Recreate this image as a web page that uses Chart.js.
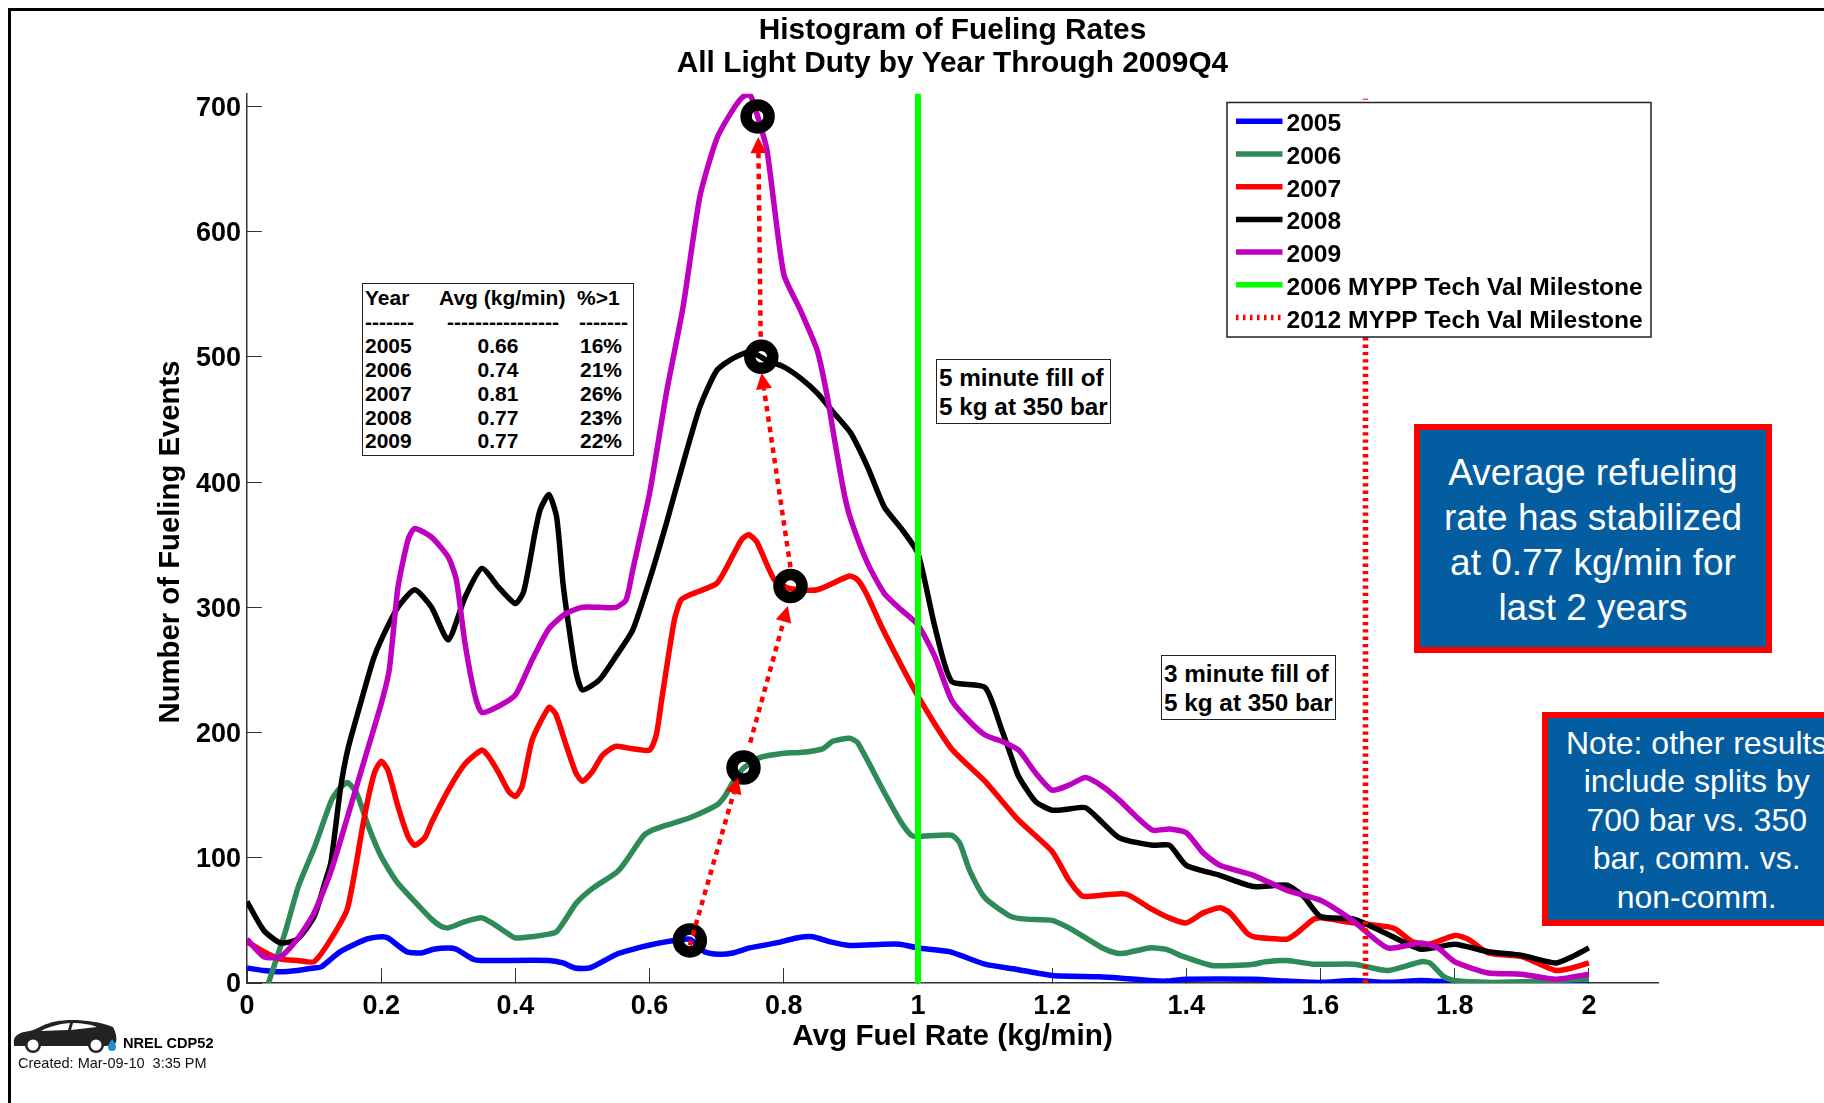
<!DOCTYPE html>
<html>
<head>
<meta charset="utf-8">
<title>Histogram of Fueling Rates</title>
<script src="https://cdn.jsdelivr.net/npm/chart.js@4"></script>
<style>
html,body{margin:0;padding:0;background:#fff;width:1824px;height:1103px;overflow:hidden;font-family:"Liberation Sans",Arial,sans-serif;}
#wrap{position:absolute;left:0;top:0;width:1824px;height:1103px;overflow:hidden;}
canvas{position:absolute;left:0;top:0;}
.frame{position:absolute;background:#000;}
.abs{position:absolute;white-space:pre;}
.box{position:absolute;background:#fff;border:1.5px solid #222;box-sizing:border-box;}
.b{font-weight:700;color:#000;}
.blue{position:absolute;box-sizing:border-box;background:#035da0;border:6px solid #f00;color:#fff;text-align:center;white-space:pre;}
</style>
</head>
<body>
<div id="wrap"><canvas id="c" width="1824" height="1103"></canvas></div>
<script>
const xTicks = [0,0.2,0.4,0.6,0.8,1,1.2,1.4,1.6,1.8,2];
const yTicks = [0,100,200,300,400,500,600,700];
const xMax = 2.103, yMax = 710;

const s2005 = [[0,12],[0.025,10],[0.05,9],[0.075,10],[0.1,12],[0.111,13],[0.139,25],[0.178,35],[0.2,37],[0.21,36],[0.238,25],[0.26,24],[0.278,27],[0.3,28],[0.312,27],[0.337,19],[0.35,18],[0.45,18],[0.471,16],[0.489,12],[0.511,12],[0.551,23],[0.59,29],[0.615,32],[0.66,35],[0.682,25],[0.704,23],[0.724,24],[0.749,28],[0.789,32],[0.819,36],[0.843,37],[0.868,33],[0.898,30],[0.948,31],[0.973,31],[1,28],[1.047,25],[1.1,15],[1.146,11],[1.2,6],[1.27,5],[1.3,4],[1.345,2],[1.37,1.5],[1.4,3],[1.5,3],[1.55,1.5],[1.6,0.5],[1.65,2],[1.7,0.5],[1.75,2],[1.8,0.5],[1.85,0],[2,0]];
const s2006 = [[0.032,0],[0.0566,40],[0.0765,77],[0.101,109],[0.126,146],[0.139,156],[0.15,160],[0.163,152],[0.181,125],[0.2,101],[0.223,81],[0.25,65],[0.275,51],[0.29,45],[0.3,44],[0.325,49],[0.35,52],[0.365,48],[0.39,39],[0.4,36],[0.425,37],[0.45,39],[0.4615,41],[0.475,51],[0.491,64],[0.516,76],[0.55,88],[0.563,96],[0.59,117],[0.6,121],[0.625,126],[0.66,132],[0.7,142],[0.712,149],[0.724,160],[0.739,171],[0.764,180],[0.8,183.5],[0.824,184],[0.858,187],[0.873,193],[0.898,195.5],[0.91,192],[0.948,154],[0.973,130],[0.99,118],[1,117],[1.05,118],[1.062,112],[1.077,90],[1.1,68],[1.139,53],[1.161,51],[1.2,50],[1.225,44],[1.25,36],[1.275,28],[1.295,24],[1.31,24],[1.345,28],[1.369,27],[1.396,21],[1.438,14],[1.47,14],[1.5,15],[1.518,17],[1.55,18],[1.59,15],[1.65,15],[1.7,10],[1.75,17],[1.763,16],[1.784,5],[1.8,2],[1.85,0.5],[1.9,1],[1.95,2],[2,3]];
const s2007 = [[0,33],[0.025,25],[0.05,19],[0.075,18],[0.1,17],[0.125,35],[0.15,60],[0.175,133],[0.19,168],[0.2,177],[0.21,170],[0.225,141],[0.24,117],[0.25,110],[0.265,116],[0.275,128],[0.3,154],[0.325,175],[0.35,186],[0.36,181],[0.375,168],[0.39,153],[0.4,149],[0.41,157],[0.425,194],[0.45,220],[0.46,215],[0.475,191],[0.49,168],[0.5,161],[0.515,169],[0.53,182],[0.55,189],[0.575,187],[0.6,186],[0.61,198],[0.618,226],[0.637,290],[0.647,306],[0.66,310],[0.675,313],[0.7,319],[0.71,327],[0.737,354],[0.748,358],[0.76,352],[0.786,322],[0.809,315],[0.85,314],[0.898,325],[0.91,322],[0.923,311],[0.948,282],[1,229],[1.05,187],[1.1,161],[1.15,130],[1.2,105],[1.225,82],[1.243,70],[1.25,69],[1.31,71],[1.345,60],[1.3745,52],[1.4,48],[1.425,56],[1.45,60],[1.465,56],[1.49,40],[1.5,37],[1.55,35],[1.565,40],[1.59,51],[1.6,52],[1.65,48],[1.7,45],[1.712,43],[1.737,33],[1.762,31],[1.8,38],[1.82,35],[1.85,24],[1.9,21],[1.95,10],[1.975,12],[2,16]];
const s2008 = [[0,65],[0.025,42],[0.05,32],[0.075,35],[0.1,53],[0.116,80],[0.125,96],[0.139,154],[0.15,186],[0.168,221],[0.188,258],[0.2,274],[0.225,300],[0.25,314],[0.275,300],[0.3,274],[0.325,308],[0.35,331],[0.375,316],[0.4,303],[0.412,312],[0.422,338],[0.429,359],[0.437,378],[0.45,390],[0.4615,372],[0.471,319],[0.479,287],[0.49,249],[0.5,234],[0.525,242],[0.55,261],[0.575,282],[0.6,322],[0.625,367],[0.65,415],[0.675,460],[0.7,489],[0.725,499],[0.75,504],[0.775,497],[0.8,492],[0.825,483],[0.85,471],[0.875,455],[0.9,439],[0.925,412],[0.95,380],[0.975,363],[1,343],[1.025,285],[1.05,241],[1.1,236],[1.125,202],[1.139,181],[1.15,165],[1.175,145],[1.2,138],[1.225,139],[1.25,140],[1.275,128],[1.3,116],[1.35,110],[1.375,110],[1.4,94],[1.45,86],[1.5,77],[1.55,78],[1.575,69],[1.6,53],[1.65,51],[1.7,39],[1.75,27],[1.8,31],[1.85,25],[1.9,22],[1.95,16],[1.975,21],[2,28]];
const s2009 = [[0,35],[0.025,21],[0.05,21],[0.075,35],[0.1,56],[0.125,89],[0.15,133],[0.175,178],[0.2,223],[0.212,250],[0.225,316],[0.24,354],[0.25,363],[0.275,356],[0.3,340],[0.312,322],[0.325,271],[0.34,229],[0.35,216],[0.375,221],[0.4,230],[0.425,258],[0.45,283],[0.475,295],[0.5,300],[0.525,300],[0.55,300],[0.565,306],[0.575,330],[0.6,391],[0.625,471],[0.65,540],[0.675,628],[0.7,674],[0.725,698],[0.74,708],[0.75,709],[0.76,694],[0.775,665],[0.8,566],[0.825,537],[0.85,505],[0.865,468],[0.875,436],[0.89,391],[0.9,370],[0.925,335],[0.95,311],[0.975,298],[1,286],[1.025,261],[1.05,226],[1.075,210],[1.1,198],[1.125,193],[1.15,186],[1.175,168],[1.2,154],[1.225,158],[1.25,164],[1.275,157],[1.3,146],[1.325,133],[1.35,122],[1.375,123],[1.4,120],[1.425,104],[1.45,94],[1.5,86],[1.55,74],[1.6,66],[1.65,49],[1.7,28],[1.75,32],[1.775,28],[1.8,17],[1.85,8],[1.9,7],[1.95,3],[2,7]];
const milestone2006 = [[1,0],[1,710]];
const milestone2012 = [[1.667,0],[1.667,706]];
const yearAverages = [[0.66,34],[0.74,172],[0.81,317],[0.7665,500],[0.761,692]];
const trendArrows = [
  [[0.66,30],[0.732,164]],
  [[0.75,192],[0.806,301]],
  [[0.81,332],[0.767,487]],
  [[0.7656,516],[0.762,675.5]]
];
const seriesNames = ['2005','2006','2007','2008','2009','2006 MYPP Tech Val Milestone','2012 MYPP Tech Val Milestone'];
const seriesColors = ['#0000ff','#2e8b57','#ff0000','#000000','#bf00bf','#00ff00','#ff0000'];

const FF = '"Liberation Sans", Arial, sans-serif';
const toPts = a => a.map(p => ({x:p[0], y:p[1]}));
const lineDs = (i, data, order, extra) => Object.assign({
  label: seriesNames[i], data: toPts(data), borderColor: seriesColors[i], backgroundColor: seriesColors[i],
  borderWidth: 5.5, pointRadius: 0, tension: 0.2, fill: false, order, borderJoinStyle:'round', borderCapStyle:'butt', showLine:true
}, extra||{});

// nudges the tick labels without moving the ticks
const nudgeLabels = (scale, dy) => {
  if (scale._nudged) return;
  scale._nudged = true;
  const orig = scale._computeLabelItems;
  scale._computeLabelItems = function(ca){
    const items = orig.call(this, ca);
    items.forEach(it => { it.options.translation[1] += dy; });
    return items;
  };
};

const arrowPlugin = {
  id:'arrows',
  afterDatasetsDraw(chart){
    const {ctx, scales:{x,y}} = chart;
    ctx.save();
    ctx.strokeStyle = ctx.fillStyle = '#ff0000';
    trendArrows.forEach(seg=>{
      const x0=x.getPixelForValue(seg[0][0]), y0=y.getPixelForValue(seg[0][1]);
      const x1=x.getPixelForValue(seg[1][0]), y1=y.getPixelForValue(seg[1][1]);
      const ang=Math.atan2(y1-y0,x1-x0), L=16, W=8;
      const bx=x1-L*Math.cos(ang), by=y1-L*Math.sin(ang);
      ctx.lineWidth=4.5; ctx.setLineDash([5.5,5]);
      ctx.beginPath(); ctx.moveTo(x0,y0); ctx.lineTo(bx,by); ctx.stroke();
      ctx.setLineDash([]);
      ctx.beginPath(); ctx.moveTo(x1,y1);
      ctx.lineTo(bx-W*Math.sin(ang),by+W*Math.cos(ang));
      ctx.lineTo(bx+W*Math.sin(ang),by-W*Math.cos(ang));
      ctx.closePath(); ctx.fill();
    });
    ctx.restore();
  }
};

const legendPlugin = {
  id:'boxedLegend',
  afterDraw(chart){
    const ctx=chart.ctx;
    const left=1227, top=102.5, w=424, h=234.5, rowH=32.7, firstLine=121.3;
    ctx.save();
    ctx.fillStyle='#fff'; ctx.fillRect(left,top,w,h);
    ctx.strokeStyle='#222'; ctx.lineWidth=1.5; ctx.strokeRect(left,top,w,h);
    chart.data.datasets.slice(0,7).forEach((ds,i)=>{
      const yy=firstLine+i*rowH;
      ctx.strokeStyle=ds.borderColor;
      if(ds.borderDash){ctx.setLineDash([2.5,4.5]);}else{ctx.setLineDash([]);}
      ctx.lineWidth=5.5;
      ctx.beginPath();ctx.moveTo(1236,yy);ctx.lineTo(1282.5,yy);ctx.stroke();
      ctx.setLineDash([]);
      ctx.fillStyle='#000';ctx.font='700 24.6px '+FF;
      ctx.textBaseline='alphabetic';ctx.textAlign='left';
      ctx.fillText(ds.label,1286.5,yy+10);
    });
    // y axis title
    ctx.translate(171,542);ctx.rotate(-Math.PI/2);
    ctx.fillStyle='#000';ctx.font='700 29.3px '+FF;ctx.textAlign='center';ctx.textBaseline='middle';
    ctx.fillText('Number of Fueling Events',0,0);
    ctx.restore();
  }
};

new Chart(document.getElementById('c'),{
  type:'scatter',
  data:{datasets:[
    lineDs(0,s2005,7),
    lineDs(1,s2006,6),
    lineDs(2,s2007,5),
    lineDs(3,s2008,4),
    lineDs(4,s2009,3),
    lineDs(5,milestone2006,2,{tension:0,borderWidth:6,clip:false}),
    lineDs(6,milestone2012,1,{tension:0,borderWidth:5.5,borderDash:[3.3,4],clip:false}),
    {label:'Average',data:toPts(yearAverages),showLine:false,pointStyle:'circle',pointRadius:11.5,pointBorderWidth:11.5,pointBorderColor:'#000',pointBackgroundColor:'rgba(0,0,0,0)',pointHoverRadius:11.5,order:0,clip:false}
  ]},
  plugins:[arrowPlugin,legendPlugin],
  options:{
    responsive:false,animation:false,events:[],
    layout:{padding:{left:154,right:166,top:8,bottom:44}},
    plugins:{
      legend:{display:false},tooltip:{enabled:false},
      title:{display:true,fullSize:false,text:['Histogram of Fueling Rates','All Light Duty by Year Through 2009Q4'],color:'#000',
        font:{family:FF,size:29.8,weight:'700',lineHeight:1.13},padding:{top:5.5,bottom:13}}
    },
    scales:{
      x:{type:'linear',min:0,max:xMax,
        afterBuildTicks(s){s.ticks=xTicks.map(v=>({value:v}));},
        afterFit(s){s.height=76;},
        grid:{drawOnChartArea:false,drawTicks:true,tickLength:-15,color:'#333',lineWidth:1},
        border:{display:true,color:'#333',width:1.5},
        ticks:{color:'#000',padding:22,maxRotation:0,autoSkip:false,font:{family:FF,size:27,weight:'700'},callback:v=>String(+(+v).toFixed(1))},
        title:{display:true,text:'Avg Fuel Rate (kg/min)',color:'#000',padding:{top:0,bottom:6},font:{family:FF,size:29.7,weight:'700',lineHeight:1.1}}
      },
      y:{type:'linear',min:0,max:yMax,
        afterBuildTicks(s){s.ticks=yTicks.map(v=>({value:v}));},
        afterFit(s){s.width=93;nudgeLabels(s,2);},
        grid:{drawOnChartArea:false,drawTicks:true,tickLength:-15,color:'#333',lineWidth:1},
        border:{display:true,color:'#333',width:1.5},
        ticks:{color:'#000',padding:21,autoSkip:false,font:{family:FF,size:27,weight:'700'},callback:v=>String(v)},
        title:{display:false}
      }
    }
  }
});

const wrap=document.getElementById('wrap');
function add(cls,css,text){const d=document.createElement('div');d.className=cls;d.style.cssText=css;if(text!==undefined)d.textContent=text;wrap.appendChild(d);return d;}
add('frame','left:8px;top:8px;width:1816px;height:3px');
add('frame','left:8px;top:8px;width:2.5px;height:1095px');
// statistics table
add('box','left:362px;top:283px;width:272px;height:173px');
const tableRows=[['Year','Avg (kg/min)','%>1'],['-------','----------------','-------'],['2005','0.66','16%'],['2006','0.74','21%'],['2007','0.81','26%'],['2008','0.77','23%'],['2009','0.77','22%']];
const rowBase=[305,329,353,377,401,425,448], colX=[[365,439,577],[365,447,579],[365,477.5,580]];
tableRows.forEach((r,i)=>{const cx=colX[Math.min(i,2)];r.forEach((t,j)=>{add('abs b',`left:${cx[j]}px;top:${rowBase[i]-19}px;font-size:21px;line-height:24px`,t);});});
// fill boxes
add('box','left:936px;top:359px;width:175px;height:65px');
add('abs b','left:939px;top:363px;font-size:24.3px;line-height:29px','5 minute fill of\n5 kg at 350 bar');
add('box','left:1161px;top:655px;width:175px;height:65px');
add('abs b','left:1164px;top:659px;font-size:24.3px;line-height:29px','3 minute fill of\n5 kg at 350 bar');
// call-outs
add('blue','left:1414px;top:424px;width:358px;height:229px;font-size:37px;line-height:45px;padding-top:20px','Average refueling\nrate has stabilized\nat 0.77 kg/min for\nlast 2 years');
add('blue','left:1542px;top:712px;width:309.4px;height:214px;font-size:32px;line-height:38.5px;padding-top:5.8px','Note: other results\ninclude splits by\n700 bar vs. 350\nbar, comm. vs.\nnon-comm.');
// footer
const car=document.createElementNS('http://www.w3.org/2000/svg','svg');
car.setAttribute('style','position:absolute;left:0;top:1000px');car.setAttribute('width','130');car.setAttribute('height','60');car.setAttribute('viewBox','0 0 130 60');
car.innerHTML='<path fill="#222" d="M14 44 C13 38 16 34 24 32 C32 31 36 29 42 26 C50 22 60 20 72 20 C86 20 100 22 113 27 C116 32 117 38 116 43 L107 46 L14 46 Z"/><path fill="#fff" d="M41 31 C48 27 58 24 70 23 L68 30 Z M73 23 C80 23 90 24 97 27 L71 30 Z"/><circle cx="33" cy="45" r="8" fill="#222"/><circle cx="33" cy="45" r="5.5" fill="#fff"/><circle cx="96" cy="45" r="8" fill="#222"/><circle cx="96" cy="45" r="5.5" fill="#fff"/><path fill="#1e8fd0" d="M112 39 C115 43 116 45 116 47 A4 4 0 0 1 108 47 C108 45 110 42 112 39 Z"/>';
wrap.appendChild(car);
add('abs b','left:123px;top:1034px;font-size:14.6px;line-height:18px','NREL CDP52');
add('abs','left:18px;top:1054px;font-size:14.5px;line-height:18px;color:#111','Created: Mar-09-10  3:35 PM');
</script>
</body>
</html>
